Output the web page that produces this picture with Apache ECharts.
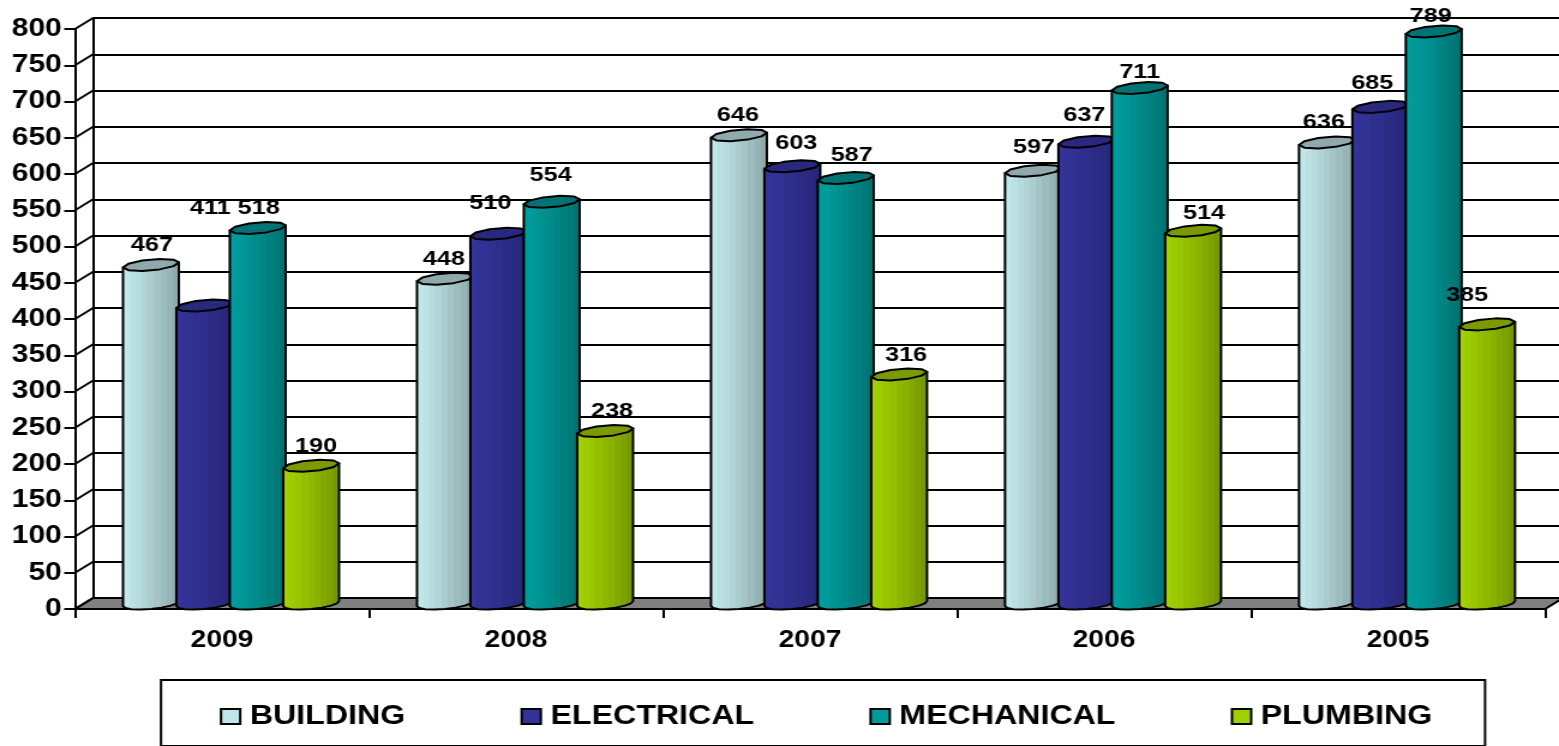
<!DOCTYPE html>
<html><head><meta charset="utf-8">
<style>html,body{margin:0;padding:0;background:#fff;overflow:hidden}
#c{width:1299px;height:746px;transform-origin:0 0;transform:scaleX(1.20015)}</style>
<script src="https://cdn.jsdelivr.net/npm/echarts@6/dist/echarts.min.js"></script>
</head><body><div id="c"></div>
<script>
const years = ['2009','2008','2007','2006','2005'];
const building = [467,448,646,597,636];
const electrical = [411,510,603,637,685];
const mechanical = [518,554,587,711,789];
const plumbing = [190,238,316,514,385];
const yTicks = [0,50,100,150,200,250,300,350,400,450,500,550,600,650,700,750,800];
// label nudges [dx, dy] in picture pixels, relative to the bar's top centre
const buildingLabels = [[1,-25],[-1,-25],[-1,-25],[1,-29],[-3,-26]];
const electricalLabels = [[6,-103],[-8,-36],[4,-29],[-2,-32],[-8,-29]];
const mechanicalLabels = [[1,-25],[-1,-32],[6,-28],[0,-21],[-3,-21]];
const plumbingLabels = [[5,-25],[7,-25],[7,-25],[11,-23],[-20,-35]];

const SX = 1.20015, DX = 18/SX, DY = -11, RY = 5.5, SHEAR = 2.5;
const FONT = '"Liberation Sans", Arial, sans-serif';

function bands(l, r){
  const n = 9, out = [];
  for(let i=0;i<n;i++){
    const c = echarts.color.lerp(Math.pow(i/(n-1),1.2), [l, r]);
    out.push({offset:i/n,color:c},{offset:(i+1)/n,color:c});
  }
  return out;
}
function ring(cx, cy, rx, a, b, steps){
  const p = [];
  for(let k=0;k<=steps;k++){
    const t = a+(b-a)*k/steps;
    p.push([cx+rx*Math.cos(t), cy+RY*Math.sin(t)-SHEAR*Math.cos(t)]);
  }
  return p;
}
function cylinder(name, values, labels, idx, left, right, topColor){
  return {
    name, type:'custom', xAxisIndex:0, yAxisIndex:0, z:3+idx, clip:false,
    itemStyle:{color:left, borderColor:'#000', borderWidth:2},
    encode:{x:0,y:1},
    data: values.map((v,i)=>[i,v]),
    renderItem(params, api){
      const i = api.value(0), v = api.value(1);
      const bw = api.size([1,0])[0];
      const base = api.coord([i,0]), top = api.coord([i,v]);
      const w = bw*0.19, rx = w/2;
      const cx = base[0] + 9/SX + (idx-1.5)*bw*0.1816;
      const yb = base[1]+DY/2, yt = top[1]+DY/2;
      const body = ring(cx,yb,rx,0,Math.PI,8).concat(
        [[cx-rx,yt+SHEAR],[cx+rx,yt-SHEAR]]);
      const cap = ring(cx,yt,rx,0,Math.PI*2,10);
      const L = labels[i];
      return {type:'group',children:[
        {type:'polygon',shape:{points:body},z2:1,style:{
          fill:{type:'linear',x:cx-rx,y:0,x2:cx+rx,y2:0,global:true,colorStops:bands(left,right)},
          stroke:'#000',lineWidth:2,lineJoin:'round'}},
        {type:'polygon',shape:{points:cap},z2:2,style:{fill:topColor,stroke:'#000',lineWidth:2,lineJoin:'round'}},
        {type:'text',z2:100,style:{text:String(v),x:cx+L[0]/SX,y:top[1]+L[1],
          align:'center',verticalAlign:'middle',fill:'#000',font:'bold 21px '+FONT}}
      ]};
    }
  };
}
const chart = echarts.init(document.getElementById('c'));
chart.setOption({
  animation:false,
  grid:[
    {left:75/SX,top:29,width:1470/SX,height:580},
    {left:93/SX,top:18,width:1466/SX,height:580}
  ],
  xAxis:[
    {type:'category',gridIndex:0,data:years,boundaryGap:true,
      axisLine:{show:true,lineStyle:{color:'#000',width:2}},
      axisTick:{show:true,length:9,alignWithLabel:false,lineStyle:{color:'#000',width:2}},
      axisLabel:{margin:20,color:'#000',fontFamily:FONT,fontWeight:'bold',fontSize:23.5}},
    {type:'category',gridIndex:1,data:years,show:false}
  ],
  yAxis:[
    {type:'value',gridIndex:0,min:0,max:800,interval:50,
      axisLine:{show:true,lineStyle:{color:'#000',width:2}},
      axisTick:{show:true,length:9,lineStyle:{color:'#000',width:2}},
      splitLine:{show:false},
      axisLabel:{margin:11,color:'#000',fontFamily:FONT,fontWeight:'bold',fontSize:25,hideOverlap:false}},
    {type:'value',gridIndex:1,min:0,max:800,interval:50,
      axisLine:{show:true,lineStyle:{color:'#000',width:2}},
      axisTick:{show:false},axisLabel:{show:false},
      splitLine:{show:true,lineStyle:{color:'#000',width:2}}}
  ],
  legend:{
    left:161/SX,top:680,orient:'horizontal',
    backgroundColor:'#fff',borderColor:'#000',borderWidth:2,
    padding:[23,44,16,49],itemGap:96,itemWidth:16,itemHeight:15,icon:'rect',
    selectedMode:false,
    textStyle:{color:'#000',fontFamily:FONT,fontWeight:'bold',fontSize:26.8,padding:[0,0,0,3]},
    data:['BUILDING','ELECTRICAL','MECHANICAL','PLUMBING'].map(n=>({name:n,itemStyle:{borderColor:'#000',borderWidth:2}}))
  },
  series:[
    {type:'custom',name:'floor',xAxisIndex:0,yAxisIndex:0,z:1,silent:true,clip:false,
      data:[[0,0]],encode:{x:0,y:1},
      renderItem(params,api){
        const s = params.coordSys, y0 = s.y+s.height;
        return {type:'polygon',shape:{points:[[s.x,y0],[s.x+DX,y0+DY],[s.x+s.width+DX,y0+DY],[s.x+s.width,y0]]},
          style:{fill:'#808080',stroke:'#000',lineWidth:2}};
      }},
    {type:'custom',name:'side',xAxisIndex:0,yAxisIndex:0,z:1,silent:true,clip:false,
      data:yTicks.map(t=>[0,t]),encode:{x:0,y:1},
      renderItem(params,api){
        const s = params.coordSys, y = api.coord([0,api.value(1)])[1];
        return {type:'line',shape:{x1:s.x,y1:y,x2:s.x+DX,y2:y+DY},style:{stroke:'#000',lineWidth:2}};
      }},
    cylinder('BUILDING',building,buildingLabels,0,'#BFE6E9','#8FABAC','#8FA9AC'),
    cylinder('ELECTRICAL',electrical,electricalLabels,1,'#333399','#27277A','#28287F'),
    cylinder('MECHANICAL',mechanical,mechanicalLabels,2,'#009C9C','#007373','#007474'),
    cylinder('PLUMBING',plumbing,plumbingLabels,3,'#A0D000','#779900','#7A9A00')
  ]
});
</script></body></html>
